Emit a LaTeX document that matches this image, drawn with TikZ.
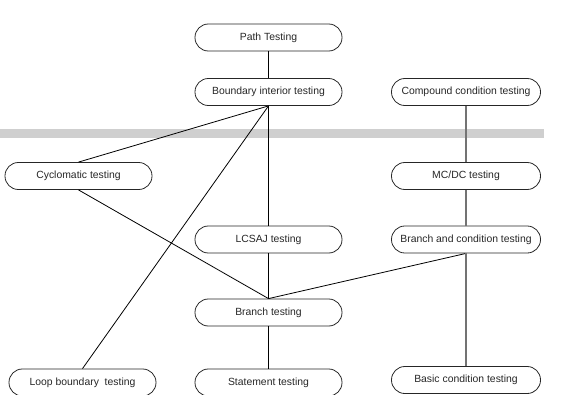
\documentclass[tikz,border=0pt]{standalone}
\usepackage{fontspec}
\setmainfont{Liberation Sans}
\begin{document}
\begin{tikzpicture}[x=0.75pt,y=-0.75pt,
  tbox/.style={draw=black!85,line width=0.6pt,rounded corners=10pt,minimum width=110.25pt,minimum height=20.25pt,inner sep=0pt,font=\fontsize{7.8}{9}\selectfont,text=black!85},
  wbox/.style={tbox,minimum width=111.75pt},
  blk/.style={draw=black,line width=0.6pt},
  gry/.style={draw=black!55,line width=1.2pt}]
\useasboundingbox (0,0) rectangle (588,404);
\fill[black!19] (0,129) rectangle (544,137.7);
\begin{scope}
\clip (0,0) rectangle (588,394.5);
\node[tbox] (pt) at (268.5,37.5) {Path Testing};
\node[tbox] (bi) at (268.5,92) {Boundary interior testing};
\node[wbox] (cc) at (466,92) {Compound condition testing};
\node[tbox] (cy) at (78.5,176) {Cyclomatic testing};
\node[wbox] (mc) at (466,176) {MC/DC testing};
\node[tbox] (lc) at (268.5,239.5) {LCSAJ testing};
\node[wbox] (bc) at (466,239.5) {Branch and condition testing};
\node[tbox] (br) at (268.5,312.5) {Branch testing};
\node[tbox] (lb) at (82.5,382.5) {Loop boundary\ \ testing};
\node[tbox] (st) at (268.5,382.5) {Statement testing};
\node[wbox] (bs) at (466,380) {Basic condition testing};
\draw[blk] (pt) -- (bi);
\draw[blk] (bi.south) -- (lc.north);
\draw[blk] (bi.south) -- (cy.north);
\draw[blk] (bi.south) -- (lb.north);
\draw[blk] (cy.south) -- (br.north);
\draw[blk] (lc) -- (br);
\draw[blk] (bc.south) -- (br.north);
\draw[blk] (br) -- (st);
\draw[gry] (cc) -- (mc);
\draw[gry] (mc) -- (bc);
\draw[gry] (bc) -- (bs);
\end{scope}
\end{tikzpicture}
\end{document}
